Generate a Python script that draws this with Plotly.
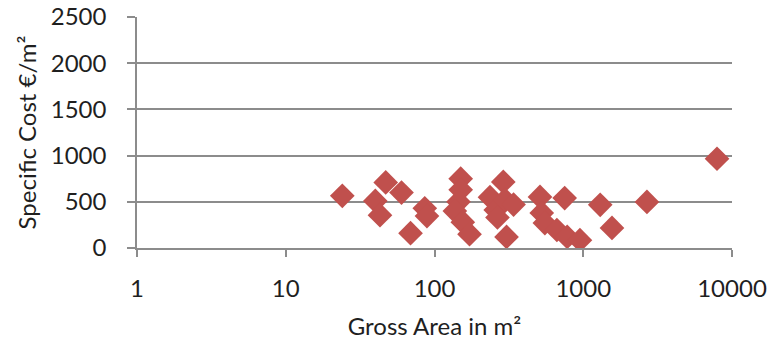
import plotly.graph_objects as go

gross_area = [24, 40, 43, 47, 60, 69, 86, 89,
              150, 150, 145, 137, 155, 172,
              236, 258, 290, 298, 340, 305, 265,
              512, 526, 552, 665, 780, 950, 750,
              1300, 1560, 2680, 7930]
specific_cost = [565, 510, 355, 710, 600, 160, 430, 345,
                 750, 630, 500, 400, 280, 150,
                 550, 410, 715, 520, 470, 120, 330,
                 553, 380, 270, 195, 120, 85, 540,
                 467, 217, 499, 966]

x_ticks = [1, 10, 100, 1000, 10000]
y_ticks = [0, 500, 1000, 1500, 2000, 2500]

FONT = "Lato"
TXT = "#1f1f1f"
GRID = "#8c8c8c"

fig = go.Figure(go.Scatter(
    x=gross_area, y=specific_cost, mode="markers",
    marker=dict(symbol="diamond", size=19, color="#C0504D", line=dict(width=0)),
    showlegend=False,
))

fig.update_layout(
    width=773, height=347,
    margin=dict(l=137, r=41, t=17, b=99),
    paper_bgcolor="white", plot_bgcolor="white",
    font=dict(family=FONT, size=24, color=TXT),
)
fig.update_xaxes(
    type="log", range=[0, 4], automargin=False,
    tickvals=x_ticks, ticktext=[str(v) for v in x_ticks],
    showgrid=False, zeroline=False,
    showline=True, linecolor=GRID, linewidth=1.5,
    ticks="outside", ticklen=7, tickcolor=GRID, tickwidth=1.5,
    ticklabelstandoff=11,
    title=dict(text="Gross Area in m²", standoff=18, font=dict(size=24)),
)
fig.update_yaxes(
    range=[0, 2500], tickvals=y_ticks, automargin=False,
    showgrid=True, gridcolor=GRID, gridwidth=1.5,
    zeroline=False,
    showline=True, linecolor=GRID, linewidth=1.5,
    ticks="outside", ticklen=8, tickcolor=GRID, tickwidth=1.5,
    ticklabelstandoff=16,
    title=dict(text="Specific Cost €/m²", standoff=7, font=dict(size=24)),
)

fig.write_html("out.html", config={"displayModeBar": False},
               post_script="document.body.style.margin='0';")
